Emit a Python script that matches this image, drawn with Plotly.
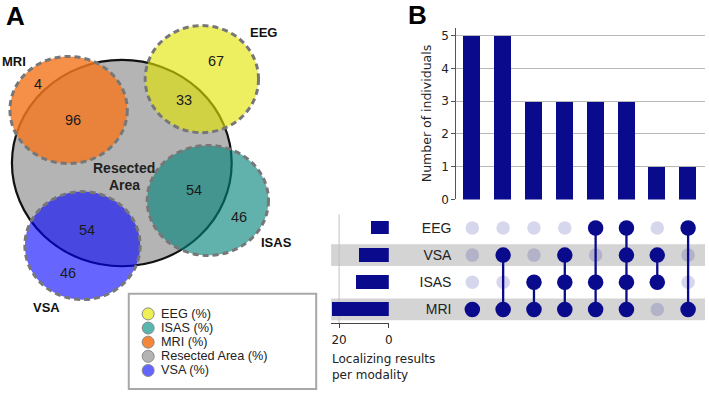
import plotly.graph_objects as go

# ---------------- DATA ----------------
venn_modalities = ["MRI", "EEG", "ISAS", "VSA"]
pct_inside_resection = [96, 33, 54, 54]
pct_outside_resection = [4, 67, 46, 46]

legend_labels = ["EEG (%)", "ISAS (%)", "MRI (%)", "Resected Area (%)", "VSA (%)"]

set_names = ["MRI", "ISAS", "VSA", "EEG"]          # bottom -> top rows
set_sizes = [23, 13, 12, 7]                         # localizing results per modality
intersection_sizes = [5, 5, 3, 3, 3, 3, 1, 1]
intersection_members = [
    ["MRI"],
    ["VSA", "MRI"],
    ["ISAS", "MRI"],
    ["VSA", "ISAS", "MRI"],
    ["EEG", "ISAS", "MRI"],
    ["EEG", "VSA", "ISAS", "MRI"],
    ["VSA", "ISAS"],
    ["EEG", "MRI"],
]
bar_ticks = [0, 1, 2, 3, 4, 5]
setsize_ticks = [20, 0]

# ---------------- STYLE / GEOMETRY ----------------
W, H = 709, 398
NAVY = "#0a0a8c"
fill_colors = {"EEG": "rgba(228,228,0,0.62)", "ISAS": "rgba(0,130,122,0.62)",
               "MRI": "rgba(244,120,32,0.82)", "VSA": "rgba(0,0,255,0.6)"}
legend_colors = {"EEG": "#eeee55", "ISAS": "#5ab4af", "MRI": "#f5873c",
                 "Resected Area": "#b4b4b4", "VSA": "#6464ff"}
legend_keys = ["EEG", "ISAS", "MRI", "Resected Area", "VSA"]

circ = {"MRI": (69, 112, 59, 54.5), "EEG": (203, 80.5, 57, 54.5),
        "ISAS": (209, 204, 61, 56), "VSA": (83, 250, 58, 55)}
resected = (122.5, 166, 110.5, 105)
pos_in = {"MRI": (73, 122), "EEG": (185, 102), "ISAS": (195, 193), "VSA": (87, 234)}
pos_out = {"MRI": (38, 85), "EEG": (217, 62), "ISAS": (240, 221), "VSA": (68, 278)}
pos_name = {"MRI": (14, 63), "EEG": (265, 33), "ISAS": (278, 247), "VSA": (47, 313)}

ARIAL = "Liberation Sans, Arial, sans-serif"
DEJAVU = "DejaVu Sans, Verdana, sans-serif"

fig = go.Figure()

shapes = []
cx, cy, rx, ry = resected
shapes.append(dict(type="circle", xref="x", yref="y", x0=cx - rx, x1=cx + rx,
                   y0=cy - ry, y1=cy + ry, fillcolor="#b4b4b4",
                   line=dict(width=2.2, color="#111111"), layer="above"))
for m in venn_modalities:
    cx, cy, rx, ry = circ[m]
    shapes.append(dict(type="circle", xref="x", yref="y", x0=cx - rx, x1=cx + rx,
                       y0=cy - ry, y1=cy + ry, fillcolor=fill_colors[m],
                       line=dict(width=0), layer="above"))
for m in venn_modalities:
    cx, cy, rx, ry = circ[m]
    shapes.append(dict(type="circle", xref="x", yref="y", x0=cx - rx, x1=cx + rx,
                       y0=cy - ry, y1=cy + ry, fillcolor="rgba(0,0,0,0)",
                       line=dict(width=3, color="#777777", dash="6px,4px"), layer="above"))

shapes.append(dict(type="rect", xref="x", yref="y", x0=129.5, x1=318, y0=299, y1=396,
                   line=dict(color="#a8a8a8", width=2), fillcolor="rgba(0,0,0,0)", layer="below"))

annotations = []
for m, vin, vout in zip(venn_modalities, pct_inside_resection, pct_outside_resection):
    for (px, py), v in ((pos_in[m], vin), (pos_out[m], vout)):
        annotations.append(dict(x=px, y=py, xref="x", yref="y", text=str(v), showarrow=False,
                                xanchor="center", yanchor="middle",
                                font=dict(family=ARIAL, size=14.5, color="#1a1a1a")))
    nx, ny = pos_name[m]
    annotations.append(dict(x=nx, y=ny, xref="x", yref="y", text="<b>%s</b>" % m, showarrow=False,
                            xanchor="center", yanchor="middle",
                            font=dict(family=ARIAL, size=13, color="#111111")))
for txt, yy in (("<b>Resected</b>", 171), ("<b>Area</b>", 188)):
    annotations.append(dict(x=125, y=yy, xref="x", yref="y", text=txt, showarrow=False,
                            xanchor="center", yanchor="middle",
                            font=dict(family=ARIAL, size=14, color="#222222")))
annotations.append(dict(x=16, y=16, xref="x", yref="y", text="<b>A</b>", showarrow=False,
                        xanchor="center", yanchor="middle",
                        font=dict(family=ARIAL, size=26, color="black")))
annotations.append(dict(x=420, y=15, xref="x", yref="y", text="<b>B</b>", showarrow=False,
                        xanchor="center", yanchor="middle",
                        font=dict(family=ARIAL, size=26, color="black")))

leg_y = [319.5 + i * 14.4 for i in range(len(legend_labels))]
fig.add_trace(go.Scatter(x=[149] * len(legend_labels), y=leg_y, mode="markers",
                         marker=dict(size=12, color=[legend_colors[k] for k in legend_keys],
                                     line=dict(color="#8a8a8a", width=1)),
                         xaxis="x", yaxis="y", showlegend=False, hoverinfo="skip"))
for lbl, yy in zip(legend_labels, leg_y):
    annotations.append(dict(x=161, y=yy, xref="x", yref="y", text=lbl, showarrow=False,
                            xanchor="left", yanchor="middle", borderpad=0,
                            font=dict(family=ARIAL, size=12.7, color="#222222")))

cols = list(range(len(intersection_sizes)))
row_idx = {s: i for i, s in enumerate(set_names)}

for s in ["VSA", "MRI"]:
    r = row_idx[s]
    shapes.append(dict(type="rect", xref="paper", yref="y3", x0=333 / W, x1=1,
                       y0=r - 0.4, y1=r + 0.4, fillcolor="#d4d4d4", line=dict(width=0),
                       layer="below"))
shapes.append(dict(type="line", xref="x4", yref="y4 domain", x0=20, x1=20, y0=0.0, y1=1.0,
                   line=dict(color="#c0c0c0", width=1), layer="below"))

fig.add_trace(go.Bar(x=cols, y=intersection_sizes, marker=dict(color=NAVY, line=dict(width=0)),
                     width=0.55, xaxis="x2", yaxis="y2", showlegend=False, hoverinfo="skip"))

inact_x, inact_y, act_x, act_y = [], [], [], []
for c, mem in zip(cols, intersection_members):
    for s in set_names:
        if s in mem:
            act_x.append(c); act_y.append(row_idx[s])
        else:
            inact_x.append(c); inact_y.append(row_idx[s])
fig.add_trace(go.Scatter(x=inact_x, y=inact_y, mode="markers",
                         marker=dict(size=13.5, color="rgba(10,10,140,0.17)"),
                         xaxis="x3", yaxis="y3", showlegend=False, hoverinfo="skip"))
for c, mem in zip(cols, intersection_members):
    rows = [row_idx[s] for s in mem]
    if len(rows) > 1:
        fig.add_trace(go.Scatter(x=[c, c], y=[min(rows), max(rows)], mode="lines",
                                 line=dict(color=NAVY, width=2.3),
                                 xaxis="x3", yaxis="y3", showlegend=False, hoverinfo="skip"))
fig.add_trace(go.Scatter(x=act_x, y=act_y, mode="markers",
                         marker=dict(size=15.5, color=NAVY),
                         xaxis="x3", yaxis="y3", showlegend=False, hoverinfo="skip"))

fig.add_trace(go.Bar(x=set_sizes, y=list(range(len(set_names))), orientation="h",
                     marker=dict(color=NAVY, line=dict(width=0)), width=0.5,
                     xaxis="x4", yaxis="y4", showlegend=False, hoverinfo="skip"))

for txt, yy in (("Localizing results", 365), ("per modality", 382)):
    annotations.append(dict(x=332 / W, y=1 - yy / H, xref="paper", yref="paper",
                            text=txt, showarrow=False, xanchor="left", yanchor="middle",
                            font=dict(family=DEJAVU, size=12, color="#222222")))

col_range = [(459 - 475) / 31, (709 - 475) / 31]
y3_dom = [1 - 328.8 / H, 1 - 218.2 / H]

fig.update_layout(
    width=W, height=H, autosize=False, margin=dict(l=0, r=0, t=0, b=0),
    paper_bgcolor="white", plot_bgcolor="rgba(0,0,0,0)",
    bargap=0, showlegend=False, hovermode=False,
    xaxis=dict(domain=[0, 1], range=[0, W], visible=False, fixedrange=True),
    yaxis=dict(domain=[0, 1], range=[H, 0], visible=False, fixedrange=True),
    xaxis2=dict(domain=[459 / W, 1], range=col_range, visible=False, anchor="y2"),
    yaxis2=dict(domain=[1 - 203 / H, 1 - 28 / H], range=[0, 5.25], anchor="x2",
                tickvals=bar_ticks, showgrid=True, gridcolor="#b8b8b8", gridwidth=1,
                zeroline=False, showline=True, linecolor="#555555", linewidth=1,
                ticks="outside", ticklen=4, tickcolor="#555555",
                tickfont=dict(family=DEJAVU, size=12, color="#222222"),
                title=dict(text="Number of individuals", standoff=6,
                           font=dict(family=DEJAVU, size=12.5, color="#222222"))),
    xaxis3=dict(domain=[459 / W, 1], range=col_range, visible=False, anchor="y3"),
    yaxis3=dict(domain=y3_dom, range=[-0.5, 3.5], anchor="x3", tickvals=list(range(len(set_names))),
                ticktext=set_names, showgrid=False, zeroline=False, showline=False, ticks="",
                ticklabelstandoff=4,
                tickfont=dict(family=ARIAL, size=14, color="#222222")),
    xaxis4=dict(domain=[333 / W, 391 / W], range=[23.2, 0], anchor="y4", tickvals=setsize_ticks,
                showgrid=False, zeroline=False, showline=True, linecolor="#444444", linewidth=1,
                ticks="outside", ticklen=4, tickcolor="#444444", ticklabelstandoff=2,
                tickfont=dict(family=DEJAVU, size=12, color="#222222")),
    yaxis4=dict(domain=y3_dom, range=[-0.5, 3.5], anchor="x4", visible=False),
    shapes=shapes, annotations=annotations,
)

fig.write_html("out.html", config={"displayModeBar": False},
               post_script="document.body.style.margin='0px';document.body.style.overflow='hidden';")
